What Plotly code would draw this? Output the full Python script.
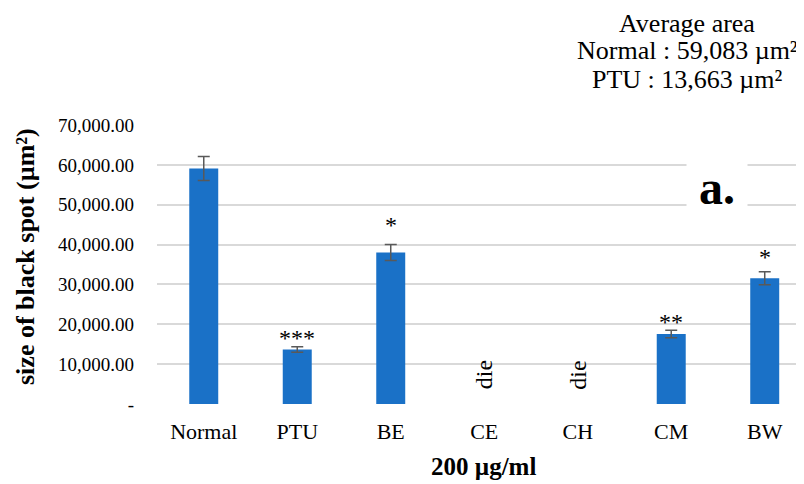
import plotly.graph_objects as go

categories = ["Normal", "PTU", "BE", "CE", "CH", "CM", "BW"]
values = [59083, 13663, 38000, None, None, 17550, 31550]
errors = [3000, 700, 2000, 0, 0, 950, 1650]
marks = ["", "***", "*", "die", "die", "**", "*"]
mark_y = [None, 16560, 44900, 7300, 7300, 20570, 36880]
ytick_vals = [0, 10000, 20000, 30000, 40000, 50000, 60000, 70000]
ytick_text = ["-", "10,000.00", "20,000.00", "30,000.00", "40,000.00", "50,000.00", "60,000.00", "70,000.00"]
info_lines = ["Average area", "Normal : 59,083 µm²", "PTU : 13,663 µm²"]

FONT = "Liberation Serif"

# page has an 8px body margin: compensate so the plot lands where the reference has it
W, H = 796, 476
L, R, T, B = 149, 0, 117, 80
PW, PH = W - L - R, H - T - B
OFF = 8

def px_to_paper_y(Y):
    return (T + PH - (Y - OFF)) / PH

def px_to_paper_x(X):
    return (X - OFF - L) / PW

fig = go.Figure()
fig.add_trace(go.Bar(
    x=categories, y=values, width=0.31,
    marker=dict(color="#1A71C7", line=dict(width=0)),
    error_y=dict(type="data", array=errors, color="#595959", thickness=1.5, width=6),
))

for c, m, my in zip(categories, marks, mark_y):
    if not m:
        continue
    if m == "die":
        fig.add_annotation(x=c, y=my, text="die", textangle=-90, showarrow=False,
                           yanchor="middle", font=dict(family=FONT, size=24, color="black"))
    else:
        fig.add_annotation(x=c, y=my, text=m, showarrow=False, yanchor="middle",
                           font=dict(family=FONT, size=24, color="black"))

fig.add_annotation(x=5.49, y=54200, text="<b>a.</b>", showarrow=False, bgcolor="white",
                   borderpad=12,
                   font=dict(family=FONT, size=48, color="black"), xanchor="center", yanchor="middle")

for line, Y in zip(info_lines, [23, 51, 79]):
    fig.add_annotation(xref="paper", yref="paper", x=px_to_paper_x(687), y=px_to_paper_y(Y),
                       text=line, showarrow=False, xanchor="center", yanchor="middle",
                       font=dict(family=FONT, size=26, color="black"))

fig.add_annotation(xref="paper", yref="paper", x=px_to_paper_x(25), y=px_to_paper_y(257),
                   text="<b>size of black spot (µm²)</b>", textangle=-90, showarrow=False,
                   xanchor="center", yanchor="middle", font=dict(family=FONT, size=26, color="black"))

fig.add_annotation(xref="paper", yref="paper", x=px_to_paper_x(483), y=px_to_paper_y(466),
                   text="<b>200 µg/ml</b>", showarrow=False,
                   xanchor="center", yanchor="middle", font=dict(family=FONT, size=25, color="black"))

fig.update_layout(
    width=W, height=H,
    margin=dict(l=L, r=R, t=T, b=B, pad=0),
    paper_bgcolor="white", plot_bgcolor="white",
    showlegend=False,
    font=dict(family=FONT, size=20, color="black"),
    xaxis=dict(range=[-0.5, 6.42], showgrid=False, showline=False, zeroline=False,
               tickfont=dict(family=FONT, size=22, color="black"), ticks="", ticklabelstandoff=12),
    yaxis=dict(range=[0, 70000], tickvals=ytick_vals, ticktext=ytick_text,
               showgrid=True, gridcolor="#D9D9D9", gridwidth=1.5, zeroline=False, showline=False,
               ticks="", ticklabelstandoff=22,
               tickfont=dict(family=FONT, size=19, color="black")),
)

fig.write_html("out.html")
